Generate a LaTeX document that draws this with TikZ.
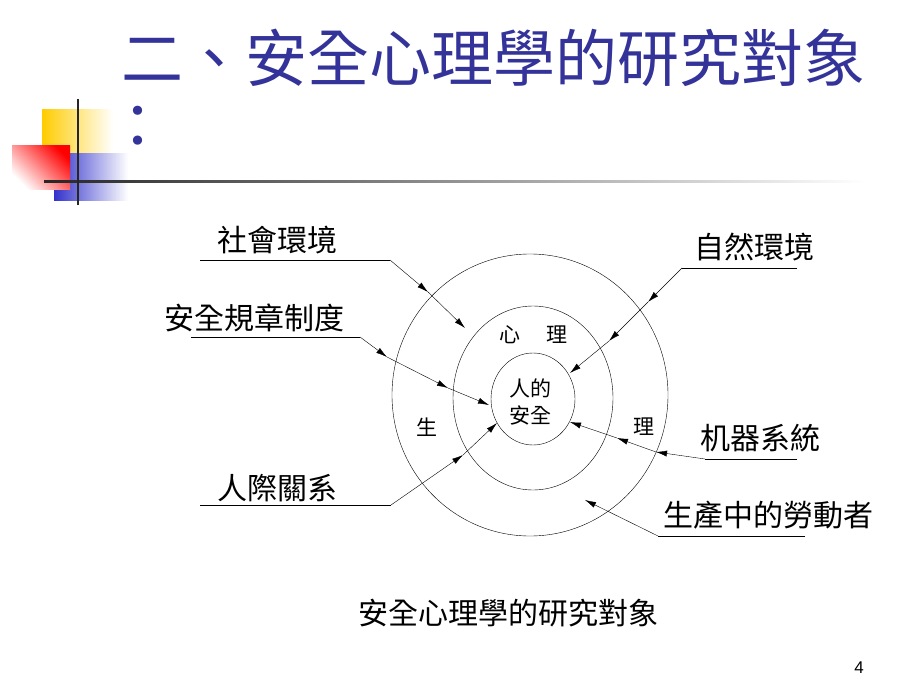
\documentclass[tikz,border=0pt]{standalone}
\usepackage{fontspec}
\usetikzlibrary{arrows.meta}
\newfontfamily\cjk{Noto Sans CJK TC}
\setsansfont{Liberation Sans}
\definecolor{titleblue}{RGB}{51,51,153}
\definecolor{decoyellow}{RGB}{255,204,0}
\definecolor{decoblue}{RGB}{51,51,204}

\begin{document}
\begin{tikzpicture}[x=1pt,y=-1pt,
  lbl/.style={font=\cjk\fontsize{30}{30}\selectfont, inner sep=0pt},
  ringtxt/.style={font=\cjk\fontsize{21}{27}\selectfont, inner sep=0pt, align=center},
  arr/.style={-{Latex[length=11pt,width=6pt]}}]
\useasboundingbox (0,0) rectangle (920,690);
% corner decoration
\fill[left color=decoyellow, middle color=decoyellow!80, right color=white] (42,110) rectangle (113,153);
\fill[left color=decoblue, middle color=decoblue!75, right color=white] (54,153) rectangle (128,200);
\fill[top color=red, bottom color=white, shading angle=-45] (12,145) rectangle (70,189);
\fill[left color=black!85, middle color=black!55, right color=white] (44,180) rectangle (865,182);
\draw[line width=2pt, black!85] (78,99) -- (78,205);
% title
\node[font=\cjk\fontsize{62}{62}\selectfont, text=titleblue, anchor=west, inner sep=0pt] (title) at (121,58) {二、安全心理學的研究對象};
\node[font=\cjk\fontsize{61}{61}\selectfont, text=titleblue, inner sep=0pt] (colon) at (138,127) {：};
% rings
\draw (530,395) ellipse [x radius=138pt, y radius=141pt];
\draw (533,398) ellipse [x radius=80pt, y radius=92pt];
\draw (533,399) ellipse [x radius=42pt, y radius=46pt];
\node[ringtxt] (xin) at (510,335) {心};
\node[ringtxt] (li) at (557,335) {理};
\node[ringtxt] (ren) at (530,402) {人的\\安全};
\node[ringtxt] (sheng) at (427,427) {生};
\node[ringtxt] (li2) at (644,427) {理};
% social environment
\node[lbl] (soc) at (277,240) {社會環境};
\coordinate (soc-l) at (200,260);
\coordinate (soc-r) at (390,260);
\coordinate (soc-m) at (428,292);
\coordinate (soc-t) at (465,328);
\draw (soc-l) -- (soc-r);
\draw[arr] (soc-r) -- (soc-m);
\draw[arr] (soc-m) -- (soc-t);
% rules
\node[lbl] (rule) at (254,318) {安全規章制度};
\coordinate (rule-l) at (191,337);
\coordinate (rule-r) at (360,337);
\coordinate (rule-m) at (387,357);
\coordinate (rule-n) at (448,388);
\coordinate (rule-t) at (489,405);
\draw (rule-l) -- (rule-r);
\draw[arr] (rule-r) -- (rule-m);
\draw[arr] (rule-m) -- (rule-n);
\draw[arr] (rule-n) -- (rule-t);
% relations
\node[lbl] (rel) at (277,488) {人際關系};
\coordinate (rel-l) at (200,505);
\coordinate (rel-r) at (391,505);
\coordinate (rel-m) at (463,455);
\coordinate (rel-t) at (497,423);
\draw (rel-l) -- (rel-r);
\draw[arr] (rel-r) -- (rel-m);
\draw[arr] (rel-m) -- (rel-t);
% nature
\node[lbl] (nat) at (754,247) {自然環境};
\coordinate (nat-l) at (682,268);
\coordinate (nat-r) at (797,268);
\coordinate (nat-m) at (648,302);
\coordinate (nat-n) at (609,341);
\coordinate (nat-t) at (570,373);
\draw (nat-r) -- (nat-l);
\draw[arr] (nat-l) -- (nat-m);
\draw[arr] (nat-m) -- (nat-n);
\draw[arr] (nat-n) -- (nat-t);
% machines
\node[lbl] (mach) at (760,438) {机器系統};
\coordinate (mach-l) at (705,459);
\coordinate (mach-r) at (797,459);
\coordinate (mach-m) at (656,452);
\coordinate (mach-n) at (617,438);
\coordinate (mach-t) at (570,422);
\draw (mach-r) -- (mach-l);
\draw[arr] (mach-l) -- (mach-m);
\draw[arr] (mach-m) -- (mach-n);
\draw[arr] (mach-n) -- (mach-t);
% workers
\node[lbl] (work) at (768,515) {生產中的勞動者};
\coordinate (work-l) at (658,536);
\coordinate (work-r) at (805,536);
\coordinate (work-t) at (585,500);
\draw (work-r) -- (work-l);
\draw[arr] (work-l) -- (work-t);
% caption and page number
\node[lbl] (cap) at (508,613) {安全心理學的研究對象};
\node[font=\sffamily\fontsize{17}{17}\selectfont, inner sep=0pt] (page) at (859,668) {4};
\end{tikzpicture}
\end{document}
